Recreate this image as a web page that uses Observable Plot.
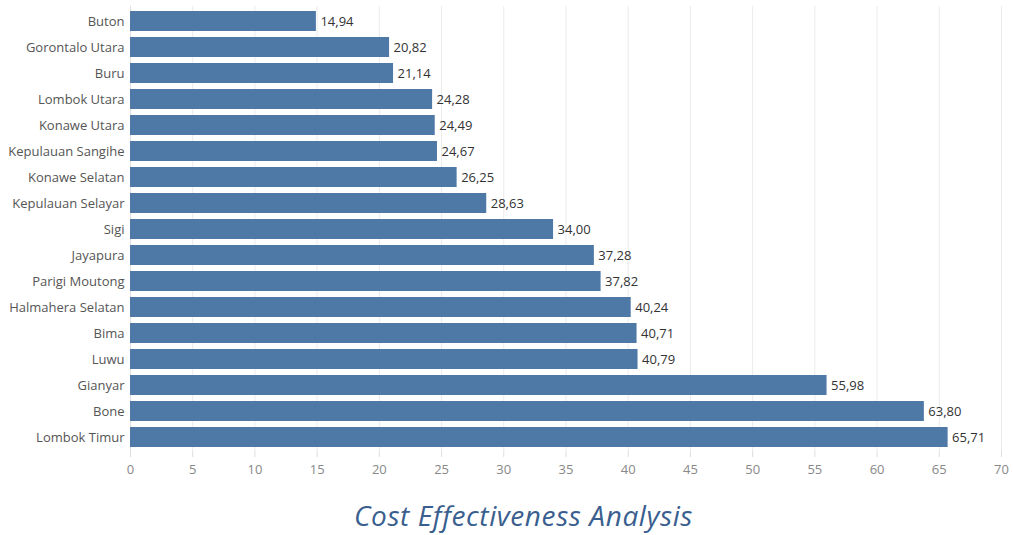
<!DOCTYPE html>
<html>
<head>
<meta charset="utf-8">
<script src="https://cdn.jsdelivr.net/npm/d3@7"></script>
<script src="https://cdn.jsdelivr.net/npm/@observablehq/plot@0.6"></script>
<style>
  html, body { margin: 0; padding: 0; background: #fff; }
  #title { font-family: "Open Sans", "Noto Sans", sans-serif; font-style: italic; font-size: 28px; letter-spacing: 0.6px; color: #3A5F8F; text-align: center; width: 1013px; margin-top: 0px; padding-left: 34px; box-sizing: border-box; line-height: 40px; }
</style>
</head>
<body>
<div id="chart"></div>
<div id="title">Cost Effectiveness Analysis</div>
<script>
const regions = ["Buton","Gorontalo Utara","Buru","Lombok Utara","Konawe Utara","Kepulauan Sangihe","Konawe Selatan","Kepulauan Selayar","Sigi","Jayapura","Parigi Moutong","Halmahera Selatan","Bima","Luwu","Gianyar","Bone","Lombok Timur"];
const values = [14.94,20.82,21.14,24.28,24.49,24.67,26.25,28.63,34.00,37.28,37.82,40.24,40.71,40.79,55.98,63.80,65.71];
const xTicks = [0,5,10,15,20,25,30,35,40,45,50,55,60,65,70];

const data = regions.map((r, i) => ({region: r, value: values[i]}));
const fmt = v => v.toFixed(2).replace(".", ",");

const chart = Plot.plot({
  width: 1013,
  height: 495,
  marginLeft: 130,
  marginRight: 12,
  marginTop: 6,
  marginBottom: 44,
  style: {fontFamily: "'Open Sans', 'Noto Sans', sans-serif", fontSize: "12px", background: "#fff"},
  x: {domain: [0, 70], ticks: xTicks, label: null, tickSize: 6, tickPadding: 7},
  y: {domain: regions, label: null, paddingInner: 0.25, paddingOuter: 0.125, tickSize: 0, tickPadding: 6},
  marks: [
    Plot.gridX(xTicks, {stroke: "#ebebeb", strokeOpacity: 1}),
    Plot.ruleX([0], {stroke: "#e0e0e0"}),
    Plot.ruleY([0], {frameAnchor: "bottom", stroke: "#e0e0e0"}),
    Plot.barX(data, {y: "region", x: "value", fill: "#4E79A7"}),
    Plot.text(data, {y: "region", x: "value", text: d => fmt(d.value), textAnchor: "start", dx: 4, fill: "#333", fontSize: 13}),
    Plot.axisX({ticks: xTicks, tickSize: 6, tickPadding: 7, stroke: "#ddd", color: "#888", fontSize: 13, label: null}),
    Plot.axisY({tickSize: 0, tickPadding: 6, color: "#555", fontSize: 13, label: null})
  ]
});
document.getElementById("chart").appendChild(chart);
</script>
</body>
</html>
